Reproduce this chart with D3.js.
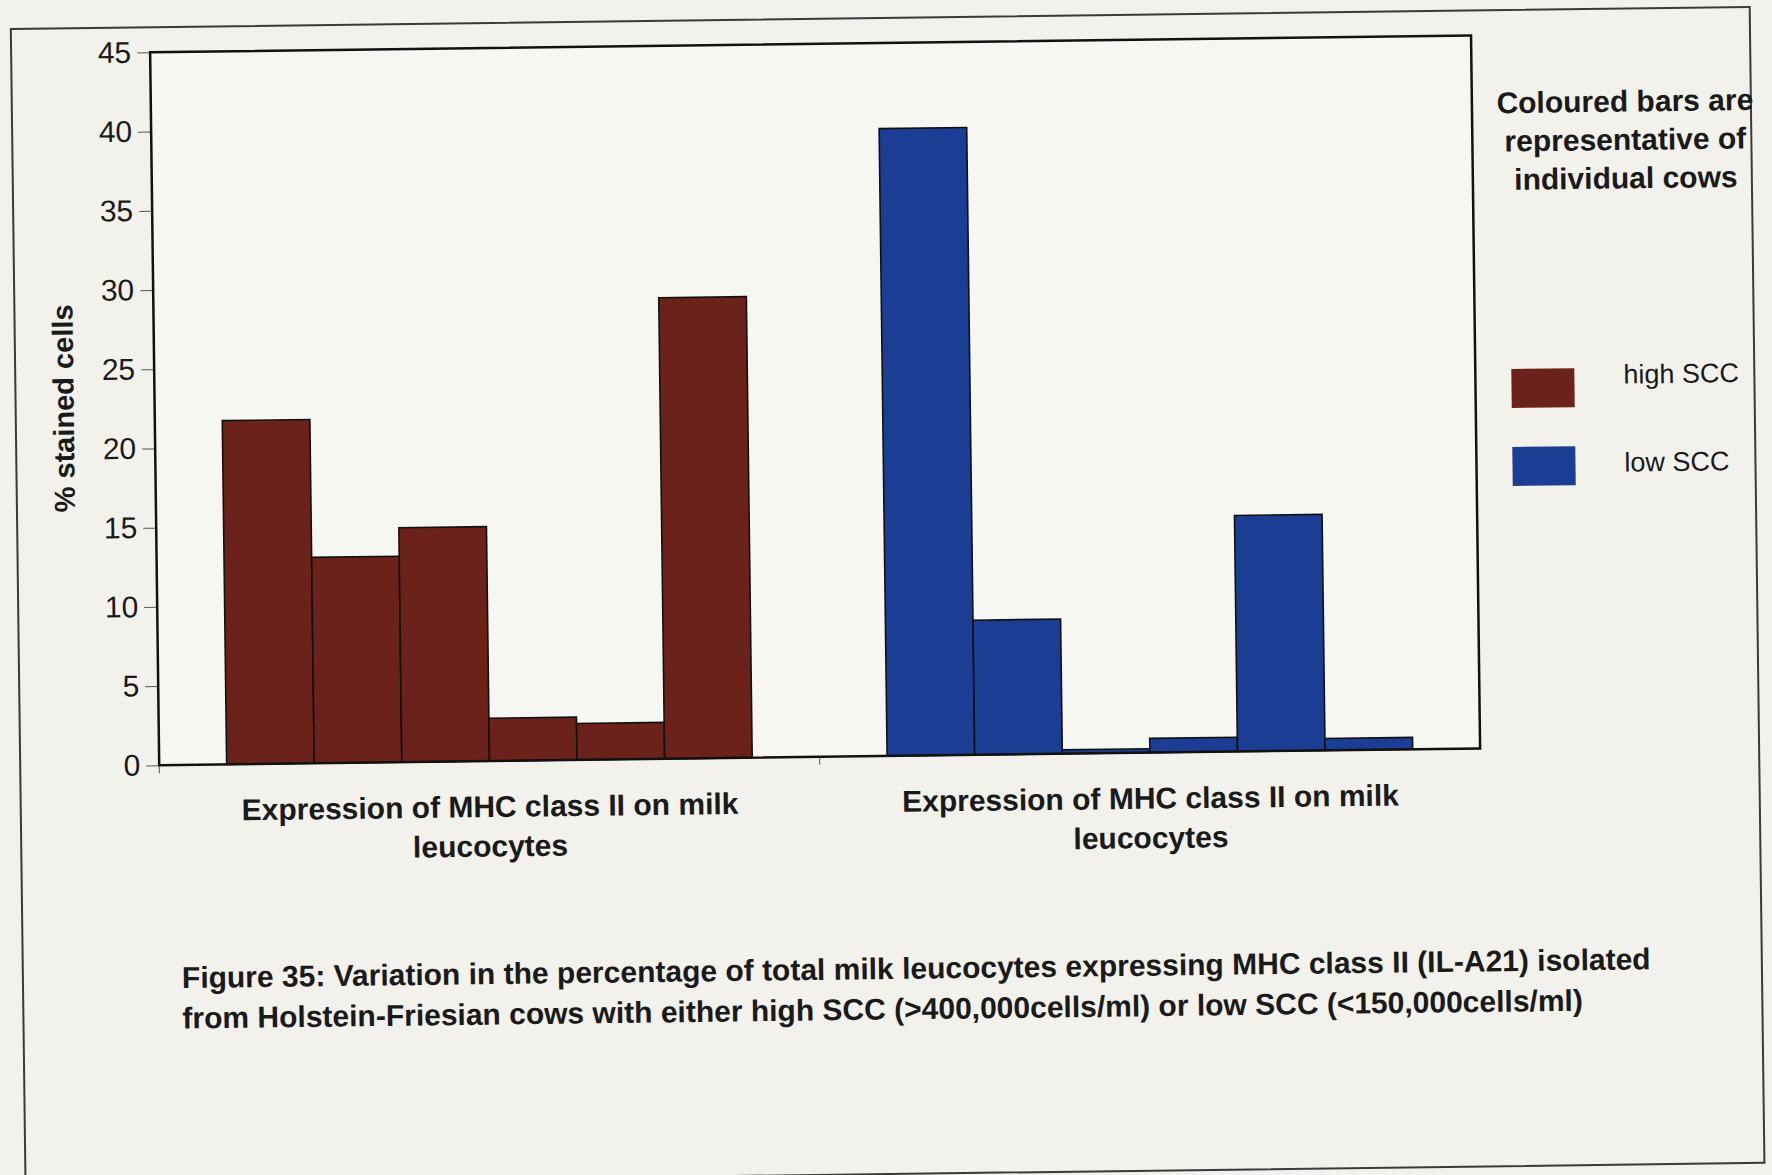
<!DOCTYPE html>
<html lang="en">
<head>
  <meta charset="UTF-8">
  <title>MHC class II on milk leucocytes</title>
  <script src="https://d3js.org/d3.v7.min.js"></script>
  <style>
    body { margin: 0; background: #f2f1eb; }
    text { font-family: "Liberation Sans", Arial, sans-serif; fill: #1a1a1a; }
  </style>
</head>
<body>
<div id="chart"></div>
<script>

// values
var groups = ["high SCC", "low SCC"];
var cows = ["cow 1", "cow 2", "cow 3", "cow 4", "cow 5", "cow 6"];
var highScc = [21.7, 13.0, 14.8, 2.7, 2.3, 29.1];
var lowScc = [39.6, 8.5, 0.25, 0.9, 14.9, 0.75];
var yTicks = [0, 5, 10, 15, 20, 25, 30, 35, 40, 45];
var groupLabel = ["Expression of MHC class II on milk", "leucocytes"];
var legendTitle = ["Coloured bars are", "representative of", "individual cows"];
var caption = [
  "Figure 35: Variation in the percentage of total milk leucocytes expressing MHC class II (IL-A21) isolated",
  "from Holstein-Friesian cows with either high SCC (>400,000cells/ml) or low SCC (<150,000cells/ml)"
];
var colours = ["#6b221a", "#1b3d93"];

var W = 1772, H = 1175;
var margin = {top: 43, left: 157},
    width = 1321,
    height = 713;

var svg = d3.select("#chart")
  .append("svg")
    .attr("width", W)
    .attr("height", H);

// the page was scanned slightly tilted
var page = svg.append("g")
  .attr("transform", "rotate(-0.73, 886, 587)");

// outer frame of the figure
page.append("rect")
  .attr("x", 18).attr("y", 18)
  .attr("width", 1739).attr("height", 1156)
  .attr("fill", "none")
  .attr("stroke", "#3a3a3a")
  .attr("stroke-width", 2);

var g = page.append("g")
  .attr("transform", "translate(" + margin.left + "," + margin.top + ")");

// plot area
g.append("rect")
  .attr("width", width).attr("height", height)
  .attr("fill", "#f6f6f2");

var x0 = d3.scaleBand()
  .domain(groups)
  .range([0, width]);

var x1 = d3.scaleBand()
  .domain(cows)
  .range([0, x0.bandwidth()])
  .paddingInner(0)
  .paddingOuter(0.77);

var y = d3.scaleLinear()
  .domain([0, 45])
  .range([height, 0]);

// Y axis
var yAxis = g.append("g")
  .call(d3.axisLeft(y).tickValues(yTicks).tickSize(13).tickPadding(6));
yAxis.select(".domain").remove();
yAxis.selectAll(".tick line").attr("stroke", "#555").attr("stroke-width", 1);
yAxis.selectAll(".tick text")
  .attr("font-size", 30)
  .attr("font-family", "Liberation Sans, Arial, sans-serif")
  .attr("fill", "#1a1a1a");

// X axis ticks between categories
var xAxis = g.append("g")
  .attr("transform", "translate(0," + height + ")")
  .call(d3.axisBottom(x0).tickValues([]).tickSizeOuter(0));
xAxis.select(".domain").remove();
xAxis.selectAll(".sep")
  .data([0, x0.step()])
  .enter().append("line")
    .attr("x1", function(d) { return d; })
    .attr("x2", function(d) { return d; })
    .attr("y1", 0).attr("y2", 8)
    .attr("stroke", "#555");

// bars
var series = [highScc, lowScc];
groups.forEach(function(grp, gi) {
  g.append("g")
    .attr("transform", "translate(" + x0(grp) + ",0)")
    .selectAll("rect")
    .data(series[gi])
    .enter().append("rect")
      .attr("x", function(d, i) { return x1(cows[i]); })
      .attr("y", function(d) { return y(d); })
      .attr("width", x1.bandwidth())
      .attr("height", function(d) { return height - y(d); })
      .attr("fill", colours[gi])
      .attr("stroke", "#111")
      .attr("stroke-width", 1.6);
});

// plot border
g.append("rect")
  .attr("width", width).attr("height", height)
  .attr("fill", "none")
  .attr("stroke", "#111")
  .attr("stroke-width", 2.5);

// category labels, one text per line
groups.forEach(function(grp) {
  g.append("g")
    .selectAll("text")
    .data(groupLabel)
    .enter().append("text")
      .attr("x", x0(grp) + x0.bandwidth() / 2)
      .attr("y", function(d, i) { return height + 56 + i * 39.5; })
      .attr("text-anchor", "middle")
      .attr("font-size", 30)
      .attr("font-weight", "bold")
      .text(function(d) { return d; });
});

// y axis title
page.append("text")
  .attr("transform", "translate(76,398) rotate(-90)")
  .attr("text-anchor", "middle")
  .attr("font-size", 29)
  .attr("font-weight", "bold")
  .text("% stained cells");

// legend
page.append("g")
  .selectAll("text")
  .data(legendTitle)
  .enter().append("text")
    .attr("x", 1631)
    .attr("y", function(d, i) { return 121 + i * 38.4; })
    .attr("text-anchor", "middle")
    .attr("font-size", 30)
    .attr("font-weight", "bold")
    .text(function(d) { return d; });

var legend = page.append("g")
  .selectAll("g")
  .data(groups)
  .enter().append("g")
    .attr("transform", function(d, i) { return "translate(1514," + (377 + i * 78) + ")"; });
legend.append("rect")
  .attr("width", 63).attr("height", 39)
  .attr("fill", function(d, i) { return colours[i]; });
legend.append("text")
  .attr("x", 112)
  .attr("y", function(d, i) { return i ? 26 : 16; })
  .attr("font-size", 27)
  .text(function(d) { return d; });

// caption
page.append("g")
  .selectAll("text")
  .data(caption)
  .enter().append("text")
    .attr("x", 177)
    .attr("y", function(d, i) { return 979 + i * 40.5; })
    .attr("font-size", 30)
    .attr("font-weight", "bold")
    .text(function(d) { return d; });

</script>
</body>
</html>
